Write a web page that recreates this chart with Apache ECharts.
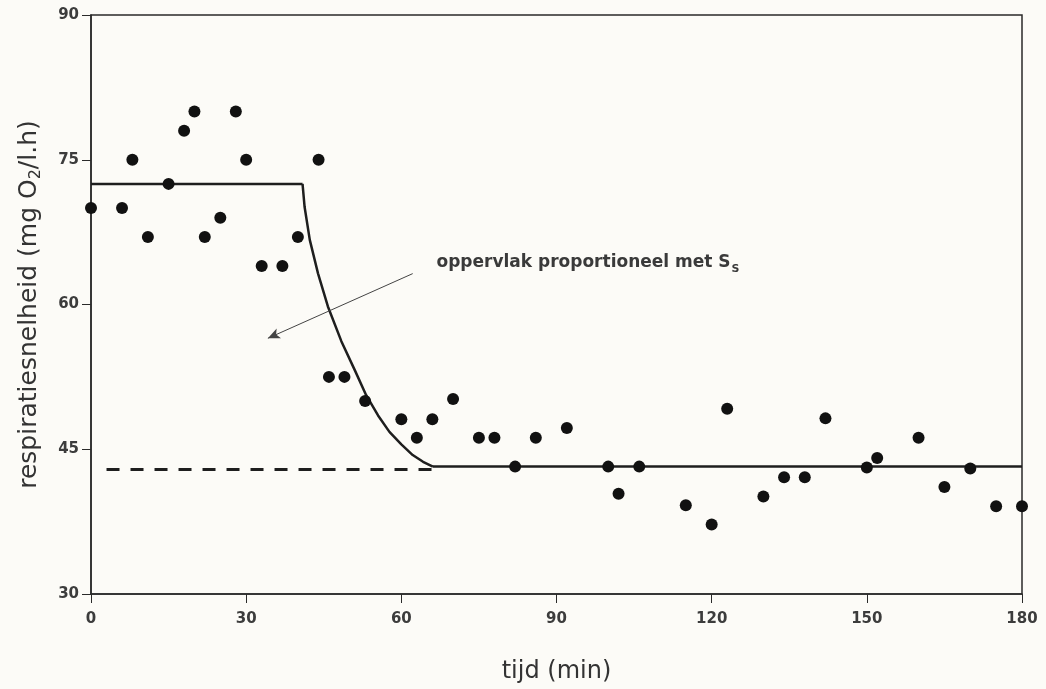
<!DOCTYPE html>
<html>
<head>
<meta charset="utf-8">
<script src="https://cdn.jsdelivr.net/npm/echarts@6/dist/echarts.min.js"></script>
<style>
  html, body { margin: 0; padding: 0; background: #fcfbf7; }
  #chart { width: 1046px; height: 689px; }
</style>
</head>
<body>
<div id="chart"></div>
<script>
// ---- data ----
const xTicks = [0, 30, 60, 90, 120, 150, 180];
const yTicks = [30, 45, 60, 75, 90];

// measured respiration rates
const pointT = [0, 6, 8, 11, 15, 18, 20, 22, 25, 28, 30, 33, 37, 40, 44,
                46, 49, 53, 60, 63, 66, 70, 75, 78, 82, 86, 92,
                100, 102, 106, 115, 120, 123, 130, 134, 138, 142,
                150, 152, 160, 165, 170, 175, 180];
const pointV = [70, 70, 75, 67, 72.5, 78, 80, 67, 69, 80, 75, 64, 64, 67, 75,
                52.5, 52.5, 50, 48.1, 46.2, 48.1, 50.2, 46.2, 46.2, 43.2, 46.2, 47.2,
                43.2, 40.4, 43.2, 39.2, 37.2, 49.2, 40.1, 42.1, 42.1, 48.2,
                43.1, 44.1, 46.2, 41.1, 43.0, 39.1, 39.1];

// model curve: plateau, decay, endogenous baseline
const plateauT = [0, 40.9];
const plateauV = [72.5, 72.5];
const decayT = [40.9, 41.3, 42.3, 43.9, 45.8, 48.4, 51.0, 53.2, 55.5, 57.7, 60.0, 62.2, 64.2, 66.1];
const decayV = [72.5, 70.1, 66.7, 63.2, 59.8, 56.2, 53.2, 50.6, 48.5, 46.8, 45.5, 44.4, 43.7, 43.2];
const baseT = [66.1, 180];
const baseV = [43.2, 43.2];

// dashed extension of baseline
const dashT = [3, 66.1];
const dashV = [42.9, 42.9];

// annotation
const annotText = 'oppervlak proportioneel met S';
const annotSub = 'S';
const annotPos = [66.8, 64.3];
const arrowFrom = [62.2, 63.2];
const arrowTo = [34.2, 56.5];

const zip = (a, b) => a.map((v, i) => [v, b[i]]);

const ink = '#1e1e1e';
const textCol = '#3c3c3c';
const fontFam = '"DejaVu Sans", Verdana, sans-serif';

const chart = echarts.init(document.getElementById('chart'));
chart.setOption({
  backgroundColor: '#fcfbf7',
  animation: false,
  grid: {
    left: 91, right: 24, top: 15, bottom: 92,
    show: true, borderColor: '#2a2a2a', borderWidth: 1.5, backgroundColor: 'transparent'
  },
  xAxis: {
    type: 'value', min: xTicks[0], max: xTicks[xTicks.length - 1], interval: 30,
    axisLine: { show: true, onZero: false, lineStyle: { color: '#2a2a2a', width: 1.5 } },
    axisTick: { show: true, inside: false, length: 9, lineStyle: { color: '#2a2a2a', width: 1 } },
    axisLabel: { show: true, margin: 18, fontSize: 15, fontWeight: 'bold', color: textCol, fontFamily: fontFam,
      formatter: v => xTicks.includes(v) ? String(v) : '' },
    splitLine: { show: false },
    name: 'tijd (min)', nameLocation: 'middle', nameGap: 66,
    nameTextStyle: { fontSize: 24, color: '#333', fontFamily: fontFam }
  },
  yAxis: {
    type: 'value', min: yTicks[0], max: yTicks[yTicks.length - 1], interval: 15,
    axisLine: { show: true, onZero: false, lineStyle: { color: '#2a2a2a', width: 1.5 } },
    axisTick: { show: true, inside: false, length: 9, lineStyle: { color: '#2a2a2a', width: 1 } },
    axisLabel: { show: true, margin: 12, fontSize: 15, fontWeight: 'bold', color: textCol, fontFamily: fontFam,
      formatter: v => yTicks.includes(v) ? String(v) : '' },
    splitLine: { show: false },
    name: '{a|respiratiesnelheid (mg O}{b|2}{a|/l.h)}',
    nameLocation: 'middle', nameGap: 47, nameRotate: 90,
    nameTextStyle: {
      color: '#333', fontFamily: fontFam,
      rich: {
        a: { fontSize: 25, color: '#333', fontFamily: fontFam, lineHeight: 29, verticalAlign: 'middle' },
        b: { fontSize: 16, color: '#333', fontFamily: fontFam, lineHeight: 17, verticalAlign: 'bottom' }
      }
    }
  },
  series: [
    {
      type: 'line', data: zip(dashT, dashV), showSymbol: false, silent: true,
      lineStyle: { color: ink, width: 3, type: [13, 11] }, z: 2
    },
    {
      type: 'line', data: zip(plateauT, plateauV), showSymbol: false, silent: true,
      lineStyle: { color: ink, width: 2.5 }, z: 3
    },
    {
      type: 'line', data: zip(decayT, decayV), showSymbol: false, silent: true, smooth: false,
      lineStyle: { color: ink, width: 2.5, join: 'round' }, z: 3,
      markLine: {
        silent: true, symbol: ['none', 'arrow'], symbolSize: [8, 12],
        label: { show: false },
        lineStyle: { color: '#444', width: 1, type: 'solid' },
        data: [[{ coord: arrowFrom }, { coord: arrowTo }]]
      },
      markPoint: {
        silent: true, symbol: 'circle', symbolSize: 0,
        data: [{
          coord: annotPos,
          label: {
            show: true, position: 'right', distance: 0,
            formatter: '{a|' + annotText + '}{b|' + annotSub + '}',
            rich: {
              a: { fontSize: 17, fontWeight: 'bold', color: '#3a3a3a', fontFamily: fontFam, lineHeight: 24, verticalAlign: 'middle' },
              b: { fontSize: 11, fontWeight: 'bold', color: '#3a3a3a', fontFamily: fontFam, lineHeight: 13, verticalAlign: 'bottom', padding: [0, 0, 0, 1] }
            }
          }
        }]
      }
    },
    {
      type: 'line', data: zip(baseT, baseV), showSymbol: false, silent: true,
      lineStyle: { color: ink, width: 2.5 }, z: 3
    },
    {
      type: 'scatter', data: zip(pointT, pointV), symbol: 'circle', symbolSize: 12,
      itemStyle: { color: '#111111', opacity: 1 }, z: 5
    }
  ]
});
</script>
</body>
</html>
